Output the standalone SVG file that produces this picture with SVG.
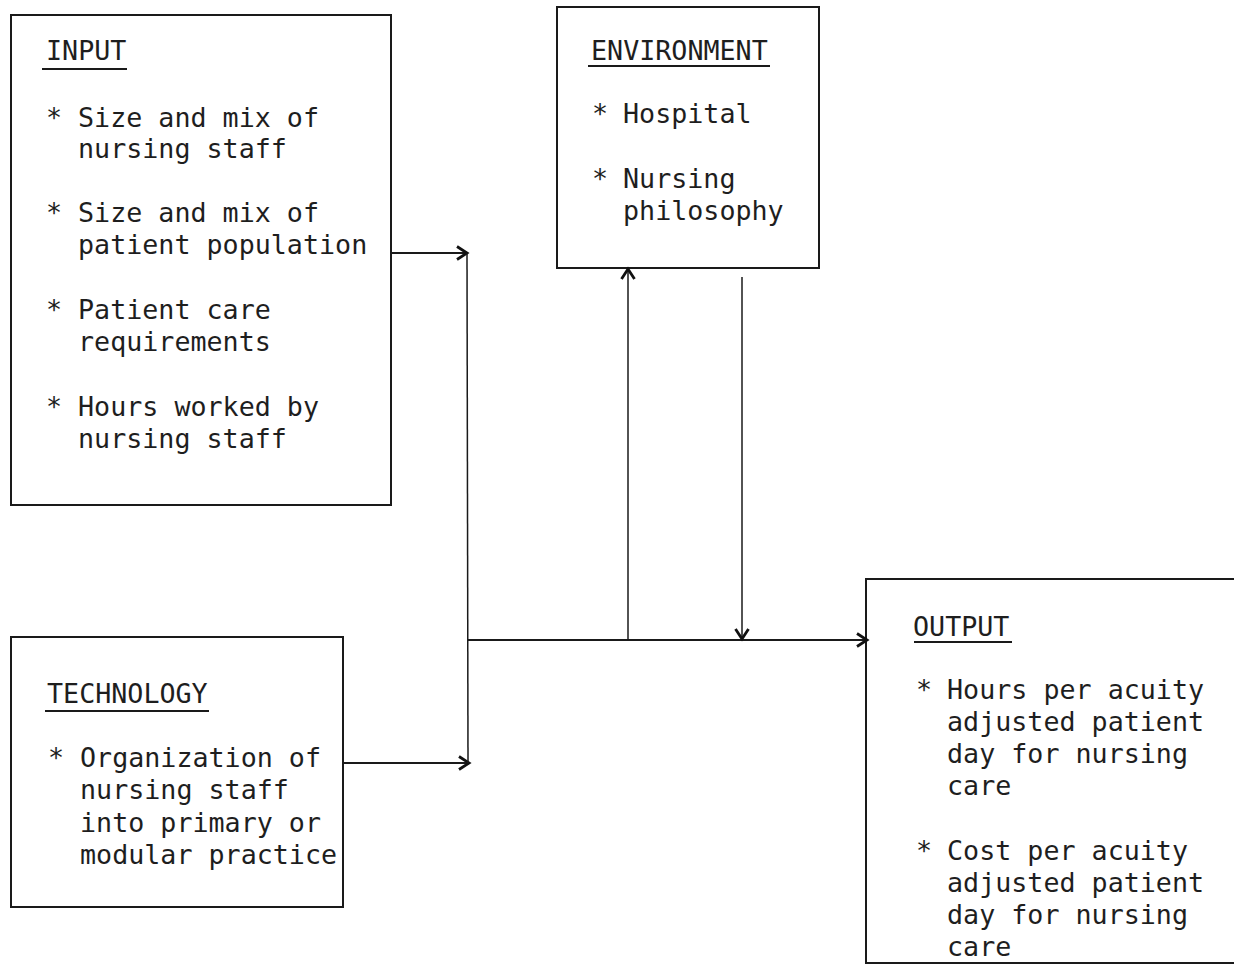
<svg xmlns="http://www.w3.org/2000/svg" width="1234" height="970" viewBox="0 0 1234 970">
<style>
.box{fill:none;stroke:#1a1a1a;stroke-width:2}
.t{font-family:"DejaVu Sans Mono","Liberation Mono",monospace;font-size:26.7px;fill:#1e1e1e}
.ul{stroke:#1a1a1a;stroke-width:1.8}
.c{fill:none;stroke:#1a1a1a;stroke-width:2}
.v{fill:none;stroke:#1a1a1a;stroke-width:1.5}
</style>
<defs>
<marker id="arr" markerWidth="16" markerHeight="16" refX="13" refY="8" orient="auto" markerUnits="userSpaceOnUse">
<path d="M3,1.5 L13,8 L3,14.5" fill="none" stroke="#111" stroke-width="2.8"/>
</marker>
</defs>
<rect width="1234" height="970" fill="#fff"/>

<g id="input">
<rect class="box" x="11" y="15" width="380" height="490"/>
<text class="t" x="46" y="60">INPUT</text>
<line class="ul" x1="42" y1="69" x2="127" y2="69"/>
<text class="t" x="46" y="127">*</text><text class="t" x="78" y="127">Size and mix of</text>
<text class="t" x="78" y="158">nursing staff</text>
<text class="t" x="46" y="222">*</text><text class="t" x="78" y="222">Size and mix of</text>
<text class="t" x="78" y="254">patient population</text>
<text class="t" x="46" y="319">*</text><text class="t" x="78" y="319">Patient care</text>
<text class="t" x="78" y="351">requirements</text>
<text class="t" x="46" y="416">*</text><text class="t" x="78" y="416">Hours worked by</text>
<text class="t" x="78" y="448">nursing staff</text>
</g>

<g id="environment">
<rect class="box" x="557" y="7" width="262" height="261"/>
<text class="t" x="591" y="60">ENVIRONMENT</text>
<line class="ul" x1="588" y1="66" x2="770" y2="66"/>
<text class="t" x="592" y="123">*</text><text class="t" x="623" y="123">Hospital</text>
<text class="t" x="592" y="188">*</text><text class="t" x="623" y="188">Nursing</text>
<text class="t" x="623" y="220">philosophy</text>
</g>

<g id="technology">
<rect class="box" x="11" y="637" width="332" height="270"/>
<text class="t" x="47" y="703">TECHNOLOGY</text>
<line class="ul" x1="45" y1="711" x2="209" y2="711"/>
<text class="t" x="48" y="767">*</text><text class="t" x="80" y="767">Organization of</text>
<text class="t" x="80" y="799">nursing staff</text>
<text class="t" x="80" y="832">into primary or</text>
<text class="t" x="80" y="864">modular practice</text>
</g>

<g id="output">
<path class="box" d="M1240,579 L866,579 L866,963 L1240,963"/>
<text class="t" x="913" y="636">OUTPUT</text>
<line class="ul" x1="914" y1="642" x2="1012" y2="642"/>
<text class="t" x="916" y="699">*</text><text class="t" x="947" y="699">Hours per acuity</text>
<text class="t" x="947" y="731">adjusted patient</text>
<text class="t" x="947" y="763">day for nursing</text>
<text class="t" x="947" y="795">care</text>
<text class="t" x="916" y="860">*</text><text class="t" x="947" y="860">Cost per acuity</text>
<text class="t" x="947" y="892">adjusted patient</text>
<text class="t" x="947" y="924">day for nursing</text>
<text class="t" x="947" y="956">care</text>
</g>

<g id="connectors">
<line class="c" x1="391" y1="253" x2="467" y2="253" marker-end="url(#arr)"/>
<line class="c" x1="343" y1="763" x2="469" y2="763" marker-end="url(#arr)"/>
<line class="v" x1="467" y1="253" x2="468" y2="763"/>
<line class="c" x1="468" y1="640" x2="867" y2="640" marker-end="url(#arr)"/>
<line class="v" x1="628" y1="640" x2="628" y2="269" marker-end="url(#arr)"/>
<line class="v" x1="742" y1="277" x2="742" y2="639" marker-end="url(#arr)"/>
</g>
</svg>
